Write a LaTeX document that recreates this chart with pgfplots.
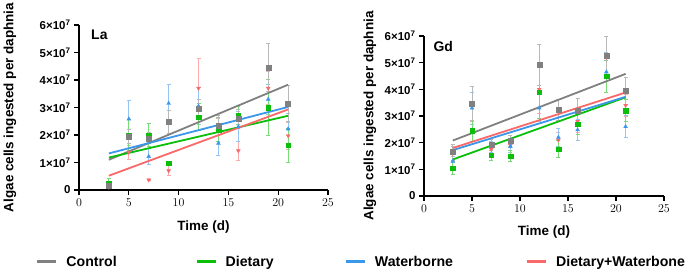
\documentclass[border=0pt]{standalone}
\usepackage{fontspec}
\setmainfont{Liberation Sans}
\usepackage{pgfplots}
\pgfplotsset{compat=1.18}

\definecolor{ctrl}{RGB}{128,128,128}
\definecolor{diet}{RGB}{10,190,10}
\definecolor{water}{RGB}{60,150,235}
\definecolor{dw}{RGB}{250,105,105}

\pgfplotsset{
  panel/.style={
    scale only axis,
    axis lines*=left,
    axis line style={line width=1.4bp, black},
    tick style={line width=1.2bp, black},
    tick align=outside,
    major tick length=5bp,
    xmin=0, xmax=25, ymin=0, ymax=6,
    xtick={0,5,...,25},
    ytick={0,...,6},
    yticklabels={0,1×10\textsuperscript{7},2×10\textsuperscript{7},3×10\textsuperscript{7},4×10\textsuperscript{7},5×10\textsuperscript{7},6×10\textsuperscript{7}},
    tick label style={font=\bfseries\fontsize{11.5}{13}\selectfont},
    label style={font=\bfseries\fontsize{13.5}{15}\selectfont},
    xlabel={Time (d)},
    ylabel={Algae cells ingested per daphnia},
    clip=false,
  },
  errs/.style={error bars/.cd, y dir=both, y explicit,
    error bar style={#1!55, line width=0.9bp},
    error mark options={rotate=90, mark size=2bp, #1!55, line width=0.9bp}},
  fit/.style={line width=1.8bp, mark=none, #1},
}

\begin{document}
\begin{tikzpicture}
\useasboundingbox (0,0) rectangle (685bp,271bp);

% ---------------- La ----------------
\begin{axis}[panel,
  at={(79bp,81bp)}, anchor=south west,
  width=249bp, height=165bp,
  xlabel style={at={(axis description cs:0.5,0)}, anchor=center, yshift=-37bp},
  ylabel style={at={(axis description cs:0,0.5)}, anchor=center, yshift=69bp},
  legend columns=4,
  legend style={at={(-0.1727,-0.4345)}, anchor=west, draw=none, fill=none,
    inner sep=0pt, column sep=0pt, nodes={inner sep=0pt},
    font=\bfseries\fontsize{14.2}{16}\selectfont},
  legend image code/.code={\draw[#1, line width=2.5bp] (0bp,0bp) -- (19bp,0bp);
    \path[draw=none, fill=none] (0bp,0bp) -- (29bp,0bp);},
]
\node[anchor=west, font=\bfseries\fontsize{14}{16}\selectfont] at (rel axis cs:0.035,0.94) {La};

\addplot[forget plot, only marks, mark=triangle*, mark options={rotate=180}, mark size=2.2bp, color=dw, errs=dw] coordinates {
  (3,0.10) +- (0,0.05) (5,1.37) +- (0,0.25) (7,0.37) +- (0,0.03) (9,0.70) +- (0,0.18)
  (12,3.70) +- (0,1.10) (14,2.30) +- (0,0.30) (16,1.43) +- (0,0.35) (19,3.70) +- (0,0.60)
  (21,1.97) +- (0,0.50)};
\addplot[forget plot, only marks, mark=triangle*, mark size=2.2bp, color=water, errs=water] coordinates {
  (3,0.20) +- (0,0.10) (5,2.58) +- (0,0.67) (7,1.22) +- (0,0.30) (9,3.15) +- (0,0.70)
  (12,3.05) +- (0,0.68) (14,1.70) +- (0,0.45) (16,2.30) +- (0,0.55) (19,3.30) +- (0,0.55)
  (21,2.22) +- (0,0.58)};
\addplot[forget plot, only marks, mark=square*, mark size=2.3bp, color=diet, errs=diet] coordinates {
  (3,0.24) +- (0,0.18) (5,2.00) +- (0,0.55) (7,2.00) +- (0,0.42) (9,0.97) +- (0,0.00)
  (12,2.65) +- (0,0.50) (14,2.20) +- (0,0.45) (16,2.72) +- (0,0.33) (19,3.00) +- (0,1.03)
  (21,1.63) +- (0,0.62)};
\addplot[forget plot, only marks, mark=square*, mark size=2.5bp, color=ctrl, errs=ctrl] coordinates {
  (3,0.15) +- (0,0.10) (5,1.95) +- (0,0.27) (7,1.88) +- (0,0.20) (9,2.48) +- (0,0.42)
  (12,2.94) +- (0,0.35) (14,2.35) +- (0,0.35) (16,2.58) +- (0,0.35) (19,4.45) +- (0,0.88)
  (21,3.15) +- (0,0.65)};

\addplot[fit=ctrl] coordinates {(3,1.10) (21,3.83)};
\addlegendentry{\makebox[129bp][l]{Control}}
\addplot[fit=diet] coordinates {(3,1.18) (21,2.70)};
\addlegendentry{\makebox[119bp][l]{Dietary}}
\addplot[fit=water] coordinates {(3,1.33) (21,3.02)};
\addlegendentry{\makebox[151bp][l]{Waterborne}}
\addplot[fit=dw] coordinates {(3,0.52) (21,2.93)};
\addlegendentry{Dietary+Waterbone}
\end{axis}

% ---------------- Gd ----------------
\begin{axis}[panel,
  at={(424bp,75bp)}, anchor=south west,
  width=240bp, height=160bp,
  xlabel style={at={(axis description cs:0.5,0)}, anchor=center, yshift=-36bp},
  ylabel style={at={(axis description cs:0,0.5)}, anchor=center, yshift=54bp},
]
\node[anchor=west, font=\bfseries\fontsize{14}{16}\selectfont] at (rel axis cs:0.025,0.933) {Gd};

\addplot[only marks, mark=triangle*, mark options={rotate=180}, mark size=2.2bp, color=dw, errs=dw] coordinates {
  (3,1.60) +- (0,0.25) (5,3.45) +- (0,0.65) (7,1.75) +- (0,0.20) (9,1.90) +- (0,0.20)
  (12,4.00) +- (0,0.90) (14,2.10) +- (0,0.30) (16,2.80) +- (0,0.40) (19,5.20) +- (0,0.78)
  (21,3.40) +- (0,0.40)};
\addplot[only marks, mark=triangle*, mark size=2.2bp, color=water, errs=water] coordinates {
  (3,1.30) +- (0,0.20) (5,3.30) +- (0,0.60) (7,1.85) +- (0,0.20) (9,1.85) +- (0,0.20)
  (12,3.30) +- (0,0.50) (14,2.20) +- (0,0.35) (16,2.48) +- (0,0.40) (19,4.65) +- (0,0.75)
  (21,2.60) +- (0,0.42)};
\addplot[only marks, mark=square*, mark size=2.3bp, color=diet, errs=diet] coordinates {
  (3,1.05) +- (0,0.25) (5,2.44) +- (0,0.38) (7,1.53) +- (0,0.18) (9,1.50) +- (0,0.22)
  (12,3.90) +- (0,1.00) (14,1.76) +- (0,0.32) (16,2.70) +- (0,0.38) (19,4.50) +- (0,0.60)
  (21,3.20) +- (0,0.42)};
\addplot[only marks, mark=square*, mark size=2.5bp, color=ctrl, errs=ctrl] coordinates {
  (3,1.65) +- (0,0.30) (5,3.47) +- (0,0.65) (7,1.91) +- (0,0.22) (9,2.06) +- (0,0.22)
  (12,4.91) +- (0,0.77) (14,3.23) +- (0,0.40) (16,3.20) +- (0,0.45) (19,5.26) +- (0,0.72)
  (21,3.94) +- (0,0.52)};

\addplot[fit=ctrl] coordinates {(3,2.08) (21,4.58)};
\addplot[fit=diet] coordinates {(3,1.37) (21,3.70)};
\addplot[fit=water] coordinates {(3,1.72) (21,3.72)};
\addplot[fit=dw] coordinates {(3,1.80) (21,3.88)};
\end{axis}
\end{tikzpicture}
\end{document}
